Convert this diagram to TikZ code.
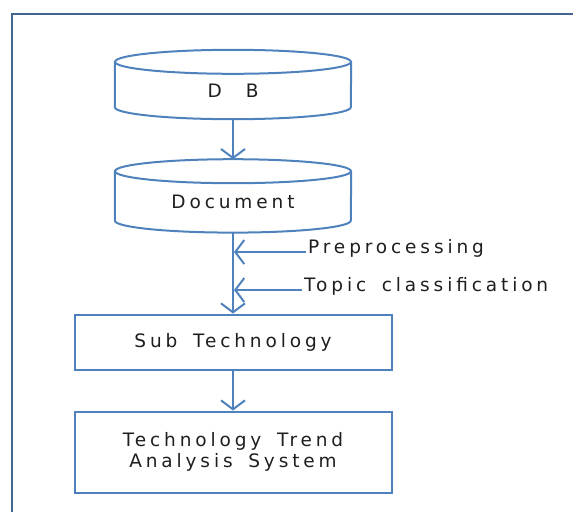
\documentclass[tikz,border=0pt]{standalone}
\usepackage{fontspec}
\newfontfamily\diagfont[LetterSpace=21, WordSpace=1.6]{DejaVu Sans}
\usetikzlibrary{shapes.geometric, arrows.meta, positioning, calc}
\definecolor{flowblue}{HTML}{4F81BD}
\definecolor{framecol}{HTML}{41658F}
\definecolor{inkgray}{HTML}{1E1E1E}
\tikzstyle{store} = [rectangle, minimum width=236pt, minimum height=69pt, text height=26pt, text depth=0pt]
\tikzstyle{process} = [rectangle, minimum width=317pt, text centered, align=center, draw=flowblue, line width=2pt]
\tikzstyle{tag} = [anchor=west, inner sep=2pt]
\tikzstyle{arrow} = [draw=flowblue, line width=2pt, -{Straight Barb[length=9pt, width=24pt]}]
% cylinder outline round a store node
\newcommand{\drawstore}[1]{%
	\draw [flowblue, line width=2pt] ($(#1.north west)+(0,12)$) -- ($(#1.south west)+(0,-12)$)
		arc [start angle=180, end angle=0, x radius=118, y radius=12] -- ($(#1.north east)+(0,12)$);
	\draw [flowblue, line width=2pt] ($(#1.north)+(0,12)$) ellipse [x radius=118, y radius=12];
}

\begin{document}
\begin{tikzpicture}[x=1pt, y=-1pt, node distance=40pt, text=inkgray, font=\diagfont\fontsize{18.5}{20.5}\selectfont]
		\useasboundingbox (0,0) rectangle (573,512);
		
		% Frame
		\draw [framecol, line width=2.6pt] (12,512) -- (12,14) -- (573,14);
		
		% Nodes
		\node (db) [store] at (233,84.5) {D\hspace{24pt}B};
		\node (doc) [store, minimum height=73pt, below=of db] {Document};
		\node (sub) [process, minimum height=55pt, below=81pt of doc] {Sub Technology};
		\node (trend) [process, minimum height=81pt, below=of sub] {Technology Trend\\Analysis System};
		\node (prep) [tag] at (306,248) {Preprocessing};
		\node (topic) [tag] at (302,286) {Topic classification};
		\coordinate (prepend) at (prep.west -| doc.south);
		\coordinate (topicend) at (topic.west -| doc.south);
		\drawstore{db}
		\drawstore{doc}
		
		% Arrows
		\draw [arrow] (db) -- (doc);
		\draw [arrow] (doc) -- (sub);
		\draw [arrow] (sub) -- (trend);
		\draw [arrow] ([yshift=-4pt]prep.west) -- ([xshift=1pt, yshift=-4pt]prepend);
		\draw [arrow] ([yshift=-4pt]topic.west) -- ([xshift=1pt, yshift=-4pt]topicend);
		
	\end{tikzpicture}
\end{document}
